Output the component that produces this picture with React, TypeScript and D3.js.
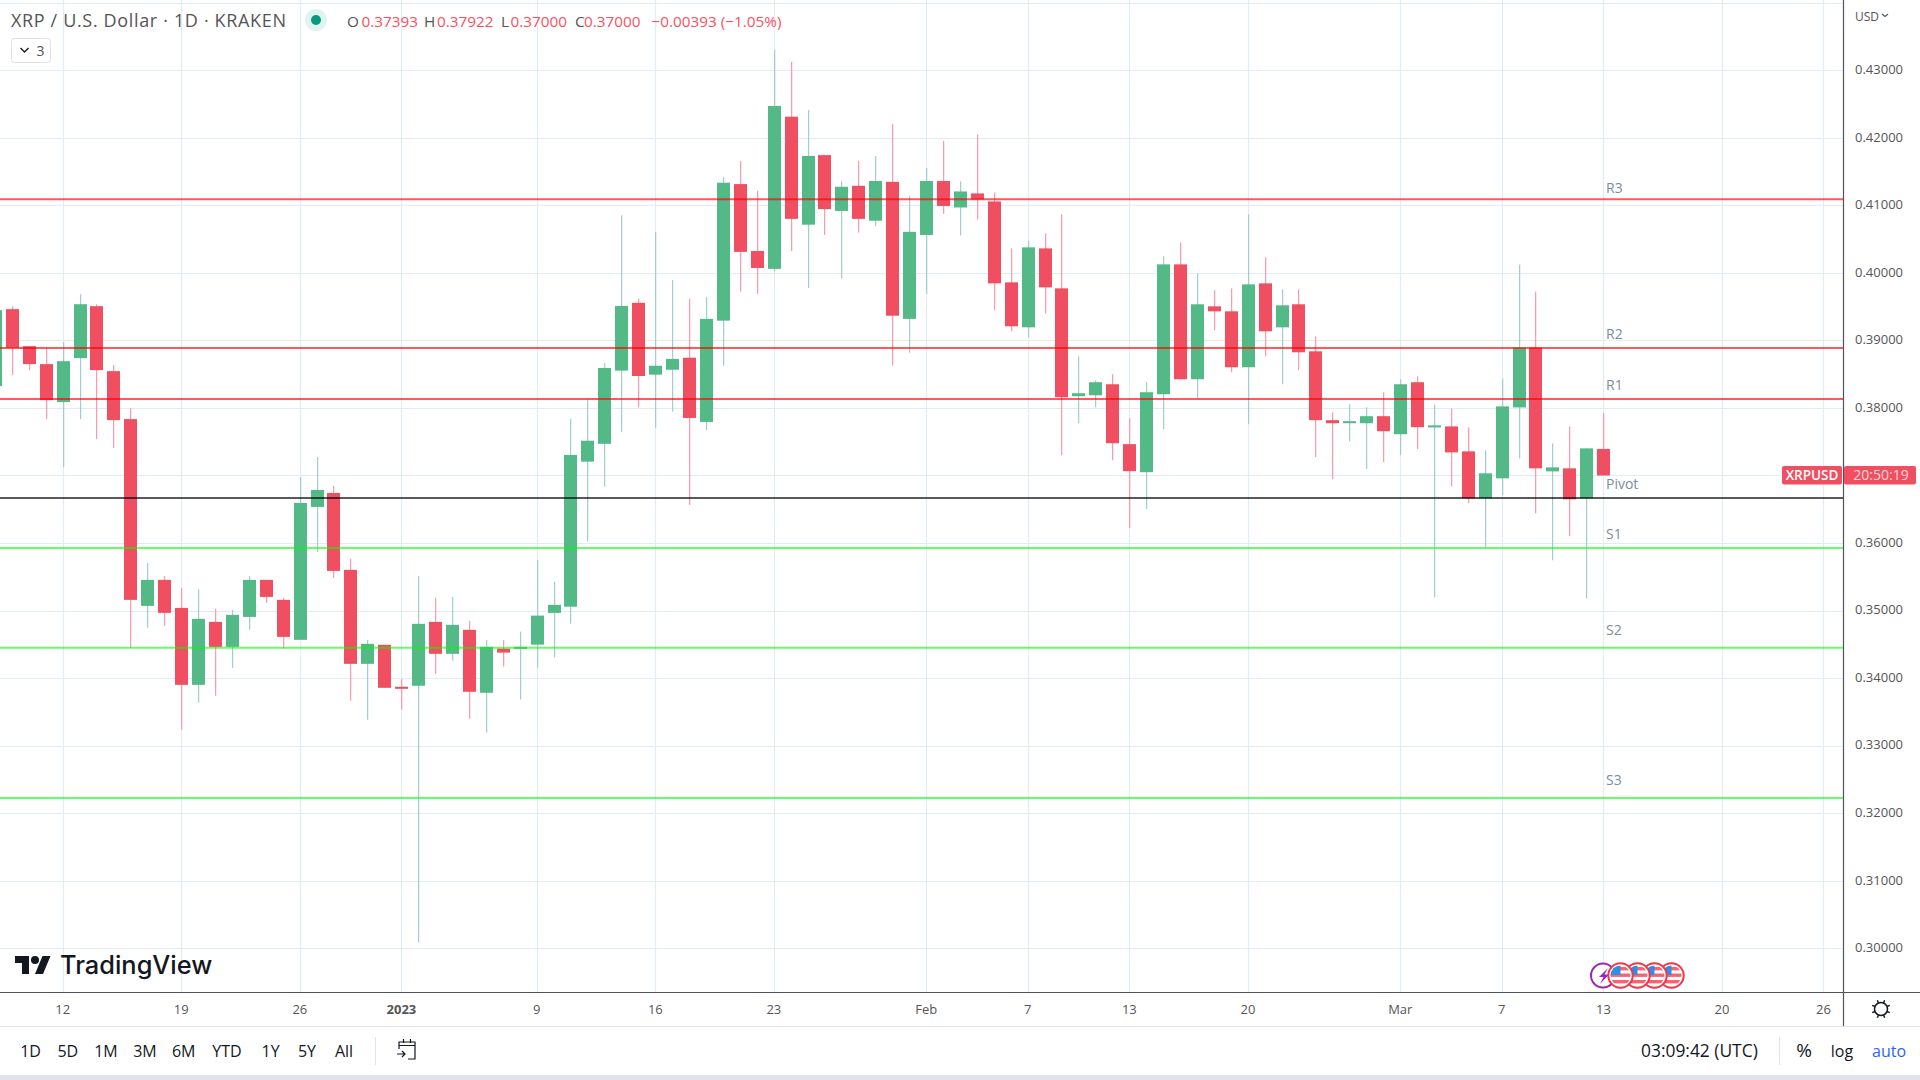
import React, { useEffect, useRef } from 'react';
import * as d3 from 'd3';

// daily sessions, Dec 8 2022 .. Mar 13 2023
const firstDay = new Date(Date.UTC(2022, 11, 8));

const opens = [
  0.38323, 0.39463, 0.38915, 0.38649, 0.38087, 0.38738, 0.39507, 0.38545, 0.37835, 0.35069,
  0.35454, 0.35039, 0.339, 0.34832, 0.34462, 0.34906, 0.35454, 0.35158, 0.34566, 0.36534,
  0.36741, 0.35602, 0.34211, 0.34492, 0.33871, 0.33886, 0.34832, 0.34359, 0.34714, 0.33782,
  0.34436, 0.34442, 0.34495, 0.34965, 0.35057, 0.37205, 0.37469, 0.38553, 0.39557, 0.38493,
  0.38566, 0.38744, 0.37793, 0.39293, 0.41315, 0.40324, 0.4006, 0.42313, 0.40714, 0.41744,
  0.40918, 0.41289, 0.40773, 0.41348, 0.39319, 0.40562, 0.41361, 0.40969, 0.41177, 0.41058,
  0.3986, 0.39194, 0.40363, 0.39771, 0.38174, 0.38188, 0.38351, 0.37464, 0.37049, 0.38203,
  0.40126, 0.38425, 0.39505, 0.39431, 0.38603, 0.39845, 0.39194, 0.39535, 0.38839, 0.37819,
  0.37774, 0.37774, 0.37878, 0.37611, 0.38381, 0.37712, 0.37727, 0.37357, 0.36662, 0.36958,
  0.38008, 0.38895, 0.37061, 0.37106, 0.36662, 0.37393,
];
const highs = [
  0.395, 0.39507, 0.38915, 0.38881, 0.38979, 0.39684, 0.39536, 0.38634, 0.37998, 0.35705,
  0.35513, 0.35335, 0.3532, 0.35025, 0.3501, 0.35513, 0.35454, 0.35187, 0.36977, 0.37273,
  0.36844, 0.35764, 0.34566, 0.34492, 0.33989, 0.35513, 0.35187, 0.35202, 0.34847, 0.34562,
  0.34562, 0.34687, 0.35751, 0.35427, 0.37839, 0.3813, 0.38665, 0.40852, 0.39617, 0.40608,
  0.39894, 0.39617, 0.39643, 0.41421, 0.41659, 0.41216, 0.43304, 0.43126, 0.42412, 0.41744,
  0.41361, 0.41659, 0.41731, 0.42207, 0.41143, 0.41553, 0.41956, 0.41354, 0.42049, 0.41191,
  0.40363, 0.40481, 0.40585, 0.40866, 0.38765, 0.3841, 0.38499, 0.37848, 0.38381, 0.40245,
  0.40452, 0.39993, 0.39742, 0.39771, 0.40866, 0.4023, 0.39756, 0.39756, 0.39061, 0.37937,
  0.38055, 0.38011, 0.38233, 0.38425, 0.38469, 0.38052, 0.37993, 0.37712, 0.37372, 0.38437,
  0.40123, 0.39724, 0.37475, 0.37727, 0.37401, 0.37922,
];
const lows = [
  0.382, 0.38486, 0.3856, 0.37835, 0.37125, 0.37835, 0.37539, 0.37406, 0.34448, 0.34744,
  0.34773, 0.33235, 0.33634, 0.33738, 0.34152, 0.34714, 0.35113, 0.34433, 0.34566, 0.35868,
  0.35483, 0.33664, 0.33383, 0.33856, 0.33531, 0.3009, 0.34063, 0.34255, 0.33398, 0.33194,
  0.34172, 0.33683, 0.34152, 0.34304, 0.34806, 0.36022, 0.36835, 0.37647, 0.38011, 0.37707,
  0.37945, 0.36564, 0.37674, 0.38625, 0.39722, 0.39689, 0.40026, 0.40324, 0.39775, 0.40562,
  0.39914, 0.40595, 0.40694, 0.38625, 0.38817, 0.39689, 0.40872, 0.40555, 0.40792, 0.39446,
  0.39135, 0.39046, 0.39401, 0.37301, 0.37774, 0.38011, 0.37227, 0.36221, 0.36502, 0.37685,
  0.38425, 0.38144, 0.3915, 0.38529, 0.37759, 0.38765, 0.38351, 0.38558, 0.37271, 0.36946,
  0.37508, 0.37094, 0.37197, 0.37301, 0.3739, 0.35197, 0.36839, 0.36588, 0.35937, 0.36706,
  0.37253, 0.3644, 0.35745, 0.361, 0.35182, 0.37,
];
const closes = [
  0.39448, 0.38891, 0.38649, 0.38116, 0.38693, 0.39536, 0.3856, 0.3782, 0.35158, 0.35454,
  0.34966, 0.339, 0.34877, 0.34462, 0.34936, 0.35454, 0.35202, 0.3461, 0.36593, 0.36785,
  0.35587, 0.34211, 0.34507, 0.33856, 0.33841, 0.34803, 0.34359, 0.34788, 0.33797, 0.34462,
  0.34377, 0.34462, 0.34925, 0.35084, 0.37304, 0.37515, 0.38592, 0.39511, 0.38473, 0.38625,
  0.38725, 0.37852, 0.39319, 0.41335, 0.40311, 0.40073, 0.42471, 0.408, 0.41731, 0.40945,
  0.41275, 0.408, 0.41361, 0.39366, 0.40608, 0.41361, 0.40991, 0.41206, 0.41088, 0.39845,
  0.39209, 0.40378, 0.39786, 0.38159, 0.38218, 0.38381, 0.37478, 0.37064, 0.38233, 0.40126,
  0.38425, 0.39535, 0.39431, 0.38603, 0.3983, 0.39135, 0.3952, 0.38824, 0.37819, 0.37774,
  0.37804, 0.37878, 0.37656, 0.38351, 0.37715, 0.37742, 0.37342, 0.36662, 0.37032, 0.38023,
  0.38895, 0.37106, 0.3712, 0.36647, 0.37401, 0.37,
];

const pivotNames = ['R3', 'R2', 'R1', 'Pivot', 'S1', 'S2', 'S3'];
const pivotValues = [0.4109, 0.38886, 0.38132, 0.36667, 0.35928, 0.34448, 0.32223];
// the names sit at their own price, not a fixed distance above the level
const pivotLabelValues = [0.41179, 0.39024, 0.38269, 0.36805, 0.36061, 0.34632, 0.32422];

// 0.37000 is covered by the last price tag in the original, so it has a grid line only
const priceTicks = [0.3, 0.31, 0.32, 0.33, 0.34, 0.35, 0.36, 0.38, 0.39, 0.4, 0.41, 0.42, 0.43];
const gridPrices = [...priceTicks, 0.37, 0.44];

const timeTickDays = ['2022-12-12', '2022-12-19', '2022-12-26', '2023-01-01', '2023-01-09', '2023-01-16',
  '2023-01-23', '2023-02-01', '2023-02-07', '2023-02-13', '2023-02-20', '2023-03-01', '2023-03-07',
  '2023-03-13', '2023-03-20', '2023-03-26'];
const timeTickLabels = ['12', '19', '26', '2023', '9', '16', '23', 'Feb', '7', '13', '20', 'Mar', '7', '13', '20', '26'];

const rangeButtons = ['1D', '5D', '1M', '3M', '6M', 'YTD', '1Y', '5Y', 'All'];
const rangeButtonX = [30.6, 67.8, 106, 145, 183.7, 227, 270.6, 307, 344];

const UP = '#53b987';
const DOWN = '#ef4f60';
const UP_WICK = '#a2ced0';
const DOWN_WICK = '#f79dac';
const GRID = '#e1ecf3';
const AXIS = '#50535e';
const FONT = '"Open Sans", sans-serif';

const PLOT_RIGHT = 1843;
const PLOT_BOTTOM = 992;

const App: React.FC = () => {
  const svgRef = useRef<SVGSVGElement>(null);

  useEffect(() => {
    if (!svgRef.current) return;
    const svg = d3.select(svgRef.current);
    svg.selectAll('*').remove();

    const y = d3.scaleLinear().domain([0.3, 0.43]).range([948.2, 70.3]);
    const x = d3.scaleUtc()
      .domain([new Date('2022-12-12'), new Date('2023-03-13')])
      .range([63.1, 1603.7]);
    const tickDates = timeTickDays.map(d => new Date(d));

    svg.append('rect').attr('width', 1920).attr('height', 1080).attr('fill', '#fff');

    // grid
    svg.append('g').selectAll('line').data(gridPrices).join('line')
      .attr('x1', 0).attr('x2', PLOT_RIGHT)
      .attr('y1', d => Math.round(y(d)) + 0.5).attr('y2', d => Math.round(y(d)) + 0.5)
      .attr('stroke', GRID).attr('stroke-width', 1.2);
    svg.append('g').selectAll('line').data(tickDates).join('line')
      .attr('x1', d => Math.floor(x(d)) + 0.5).attr('x2', d => Math.floor(x(d)) + 0.5)
      .attr('y1', 0).attr('y2', PLOT_BOTTOM)
      .attr('stroke', GRID).attr('stroke-width', 1.2);

    // candles
    const days = d3.range(opens.length).map(i => d3.utcDay.offset(firstDay, i));
    const candles = svg.append('g').selectAll('g').data(days).join('g')
      .attr('transform', d => `translate(${Math.floor(x(d))},0)`);
    candles.append('rect')
      .attr('x', 0).attr('width', 1.25)
      .attr('y', (_, i) => y(highs[i]))
      .attr('height', (_, i) => y(lows[i]) - y(highs[i]))
      .attr('fill', (_, i) => (closes[i] >= opens[i] ? UP_WICK : DOWN_WICK));
    candles.append('rect')
      .attr('x', -6).attr('width', 13)
      .attr('y', (_, i) => y(Math.max(opens[i], closes[i])))
      .attr('height', (_, i) => Math.max(2, Math.abs(y(opens[i]) - y(closes[i]))))
      .attr('fill', (_, i) => (closes[i] >= opens[i] ? UP : DOWN));

    // pivot levels
    const pivotColor = (name: string) => (name === 'Pivot'
      ? 'rgba(0,0,0,0.65)'
      : name[0] === 'R' ? 'rgba(255,0,0,0.65)' : 'rgba(0,255,0,0.6)');
    svg.append('g').selectAll('line').data(pivotValues).join('line')
      .attr('x1', 0).attr('x2', PLOT_RIGHT)
      .attr('y1', d => y(d)).attr('y2', d => y(d))
      .attr('stroke', (_, i) => pivotColor(pivotNames[i]))
      .attr('stroke-width', 2);
    svg.append('g').selectAll('text').data(pivotLabelValues).join('text')
      .attr('x', 1606).attr('y', d => y(d))
      .attr('font-family', FONT).attr('font-size', 14).attr('fill', '#7c8d9f')
      .text((_, i) => pivotNames[i]);

    // header
    const header = svg.append('g').attr('font-family', FONT);
    header.append('text').attr('x', 11).attr('y', 27).attr('font-size', 18).attr('fill', '#555')
      .attr('textLength', 275).attr('lengthAdjust', 'spacing')
      .text('XRP / U.S. Dollar · 1D · KRAKEN');
    header.append('circle').attr('cx', 316).attr('cy', 20).attr('r', 11).attr('fill', '#e0f3ef');
    header.append('circle').attr('cx', 316).attr('cy', 20).attr('r', 5).attr('fill', '#089981');
    const ohlcLabels = ['O', 'H', 'L', 'C'];
    const ohlcLabelX = [347, 424, 501, 575];
    const ohlcValueX = [361.5, 437, 510.5, 584];
    const last = opens.length - 1;
    const ohlc = [opens[last], highs[last], lows[last], closes[last]];
    ohlcLabels.forEach((t, i) => {
      header.append('text').attr('x', ohlcLabelX[i]).attr('y', 27).attr('font-size', 15.3).attr('fill', '#555').text(t);
      header.append('text').attr('x', ohlcValueX[i]).attr('y', 27).attr('font-size', 15.3).attr('fill', '#f7525f')
        .text(d3.format('.5f')(ohlc[i]));
    });
    header.append('text').attr('x', 651.5).attr('y', 27).attr('font-size', 15.3).attr('fill', '#f7525f')
      .text('−0.00393 (−1.05%)');
    header.append('rect').attr('x', 11.5).attr('y', 38.5).attr('width', 39).attr('height', 24).attr('rx', 3)
      .attr('fill', '#fff').attr('stroke', '#dfe1e6');
    header.append('path').attr('d', 'M20.5 48l4 4 4-4').attr('fill', 'none').attr('stroke', '#222').attr('stroke-width', 1.5);
    header.append('text').attr('x', 36.5).attr('y', 55.5).attr('font-size', 14).attr('fill', '#555').text('3');

    // logo
    const logo = svg.append('g').attr('transform', 'translate(15,952)').attr('fill', '#131722');
    logo.append('path').attr('d', 'M14 22H7V11H0V4h14v18zM28 22h-8l7.5-18h8L28 22z');
    logo.append('circle').attr('cx', 20).attr('cy', 8).attr('r', 4);
    svg.append('text').attr('x', 60).attr('y', 974).attr('font-family', 'Inter, sans-serif')
      .attr('font-weight', 500).attr('font-size', 25.4).attr('fill', '#131722').text('TradingView');

    // event markers, rightmost first so the left flag stays on top
    const markers = svg.append('g');
    markers.append('circle').attr('cx', 1603).attr('cy', 975.5).attr('r', 12)
      .attr('fill', '#fff').attr('stroke', '#9c27b0').attr('stroke-width', 2);
    markers.append('path').attr('d', 'M1608 968l-9 9h4.5l-3.5 7 9-9.5h-4.5z').attr('fill', '#9c27b0');
    const defs = svg.append('defs');
    const flagX = [1671.5, 1654.5, 1637.5, 1620.5];
    flagX.forEach((cx, i) => {
      defs.append('clipPath').attr('id', `flag-${i}`)
        .append('circle').attr('cx', cx).attr('cy', 975.5).attr('r', 10);
      const g = markers.append('g');
      g.append('circle').attr('cx', cx).attr('cy', 975.5).attr('r', 12.2)
        .attr('fill', '#fff').attr('stroke', '#f23645').attr('stroke-width', 2);
      const flag = g.append('g').attr('clip-path', `url(#flag-${i})`);
      [967, 973.5, 980].forEach(sy => {
        flag.append('rect').attr('x', cx - 12).attr('y', sy).attr('width', 24).attr('height', 3.4).attr('fill', '#f7646f');
      });
      flag.append('rect').attr('x', cx - 11).attr('y', 964).attr('width', 11).attr('height', 11).attr('fill', '#2a8fe8');
    });

    // price axis
    const priceAxis = d3.axisRight(y).tickValues(priceTicks).tickSize(0).tickPadding(12)
      .tickFormat(d => d3.format('.5f')(d as number));
    const priceG = svg.append('g').attr('transform', `translate(${PLOT_RIGHT},0)`).call(priceAxis);
    priceG.select('.domain').remove();
    priceG.selectAll('text').attr('font-family', FONT).attr('font-size', 13).attr('fill', '#555').attr('dy', '0.26em');
    svg.append('text').attr('x', 1855).attr('y', 20.5).attr('font-family', FONT).attr('font-size', 12)
      .attr('fill', '#555').text('USD');
    svg.append('path').attr('d', 'M1882 14l3 2.5 3-2.5').attr('fill', 'none').attr('stroke', '#555').attr('stroke-width', 1.2);

    // time axis
    const timeAxis = d3.axisBottom(x).tickValues(tickDates).tickSize(0).tickPadding(12.5)
      .tickFormat((_, i) => timeTickLabels[i]);
    const timeG = svg.append('g').attr('transform', `translate(0,${PLOT_BOTTOM})`).call(timeAxis);
    timeG.select('.domain').remove();
    timeG.selectAll('text').attr('font-family', FONT).attr('font-size', 13).attr('fill', '#555')
      .attr('dx', -0.8)
      .attr('font-weight', (_, i) => (timeTickLabels[i] === '2023' ? 700 : 400));

    // frame
    svg.append('line').attr('x1', 0).attr('x2', 1920).attr('y1', 992.5).attr('y2', 992.5).attr('stroke', AXIS).attr('stroke-width', 1.2);
    svg.append('line').attr('x1', 1843.5).attr('x2', 1843.5).attr('y1', 0).attr('y2', 1026).attr('stroke', AXIS).attr('stroke-width', 1.2);
    svg.append('line').attr('x1', 0).attr('x2', 1920).attr('y1', 1026.5).attr('y2', 1026.5).attr('stroke', '#e0e3eb').attr('stroke-width', 1.2);

    // last price tag
    svg.append('rect').attr('x', 1782).attr('y', 466).attr('width', 60).attr('height', 18.5).attr('rx', 2).attr('fill', DOWN);
    svg.append('rect').attr('x', 1844).attr('y', 466).attr('width', 72).attr('height', 18.5).attr('rx', 2).attr('fill', DOWN);
    svg.append('text').attr('x', 1812).attr('y', 480).attr('text-anchor', 'middle').attr('font-family', FONT)
      .attr('font-size', 13.5).attr('font-weight', 600).attr('fill', '#fff').text('XRPUSD');
    svg.append('text').attr('x', 1881).attr('y', 480).attr('text-anchor', 'middle').attr('font-family', FONT)
      .attr('font-size', 14).attr('fill', '#ffd6da').text('20:50:19');

    // settings icon
    const gear = svg.append('g').attr('transform', 'translate(1881,1009)').attr('fill', 'none').attr('stroke', '#131722').attr('stroke-width', 1.5);
    gear.append('circle').attr('r', 6.5);
    d3.range(8).forEach(k => {
      const a = (k * Math.PI) / 4 + Math.PI / 8;
      gear.append('line').attr('x1', 6.5 * Math.cos(a)).attr('y1', 6.5 * Math.sin(a))
        .attr('x2', 9.5 * Math.cos(a)).attr('y2', 9.5 * Math.sin(a));
    });

    // bottom toolbar
    const bar = svg.append('g').attr('font-family', FONT).attr('fill', '#131722');
    bar.selectAll('text.range').data(rangeButtons).join('text').attr('class', 'range')
      .attr('x', (_, i) => rangeButtonX[i]).attr('y', 1056.5).attr('text-anchor', 'middle')
      .attr('font-size', 16).text(d => d);
    svg.append('line').attr('x1', 375.5).attr('x2', 375.5).attr('y1', 1037).attr('y2', 1065).attr('stroke', '#e0e3eb');
    svg.append('line').attr('x1', 1779.5).attr('x2', 1779.5).attr('y1', 1037).attr('y2', 1065).attr('stroke', '#e0e3eb');
    svg.append('path')
      .attr('d', 'M399 1049v-7h16v17h-7M399 1045.5h16M403.5 1039v4M410.5 1039v4M397 1054h8M402 1051l3 3-3 3')
      .attr('fill', 'none').attr('stroke', '#131722').attr('stroke-width', 1.2);
    bar.append('text').attr('x', 1641).attr('y', 1056.5).attr('font-size', 17.4).text('03:09:42 (UTC)');
    bar.append('text').attr('x', 1804).attr('y', 1057).attr('text-anchor', 'middle').attr('font-size', 19).text('%');
    bar.append('text').attr('x', 1842).attr('y', 1056.5).attr('text-anchor', 'middle').attr('font-size', 16).text('log');
    bar.append('text').attr('x', 1889).attr('y', 1056.5).attr('text-anchor', 'middle').attr('font-size', 16)
      .attr('fill', '#2962ff').text('auto');
    svg.append('rect').attr('x', 0).attr('y', 1075).attr('width', 1920).attr('height', 5).attr('fill', '#e0e3eb');
  }, []);

  return (
    <svg ref={svgRef} width={1920} height={1080} style={{ position: 'fixed', top: 0, left: 0 }} />
  );
};

export default App;
